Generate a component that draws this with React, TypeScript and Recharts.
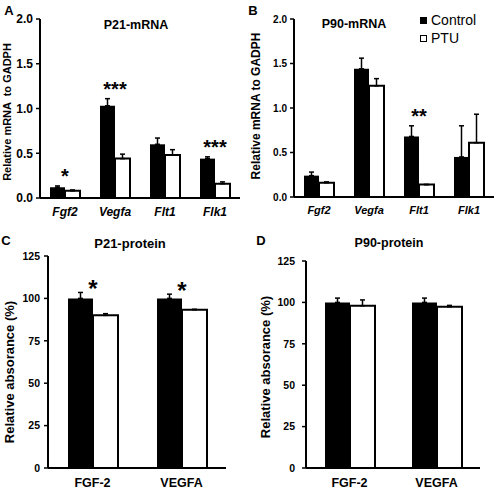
import { BarChart, Bar, XAxis, YAxis, ErrorBar, LabelList, Legend } from 'recharts';

const FONT = '"Liberation Sans", Arial, Helvetica, sans-serif';

const geneNames = ['Fgf2', 'Vegfa', 'Flt1', 'Flk1'];
const proteinNames = ['FGF-2', 'VEGFA'];

const mrnaTicks = [0, 0.5, 1, 1.5, 2];
const proteinTicks = [0, 25, 50, 75, 100, 125];

// A  P21-mRNA
const p21mControl = [0.12, 1.03, 0.6, 0.44];
const p21mControlErr = [0.015, 0.08, 0.07, 0.02];
const p21mPtu = [0.08, 0.44, 0.48, 0.16];
const p21mPtuErr = [0.01, 0.05, 0.06, 0.02];
const p21mSig = ['*', '***', '', '***'];

// B  P90-mRNA
const p90mControl = [0.24, 1.44, 0.68, 0.45];
const p90mControlErr = [0.04, 0.12, 0.12, 0.35];
const p90mPtu = [0.16, 1.25, 0.14, 0.61];
const p90mPtuErr = [0.01, 0.08, 0, 0.32];
const p90mSig = ['', '', '**', ''];

// C  P21-protein
const p21pControl = [100, 100];
const p21pControlErr = [3.5, 2.5];
const p21pPtu = [90, 93.3];
const p21pPtuErr = [1, 0.3];
const p21pSig = ['*', '*'];

// D  P90-protein
const p90pControl = [100, 100];
const p90pControlErr = [2.6, 2.6];
const p90pPtu = [98, 97.4];
const p90pPtuErr = [3.5, 0.8];
const p90pSig = ['', ''];

const buildRows = (
  names: string[],
  control: number[],
  controlErr: number[],
  ptu: number[],
  ptuErr: number[],
  sig: string[]
) =>
  names.map((name, i) => ({
    name,
    control: control[i],
    ptu: ptu[i],
    // only the upper half of each error bar is drawn
    controlErr: [0, controlErr[i]],
    ptuErr: [0, ptuErr[i]],
    sig: sig[i],
  }));

const fmt1 = (v: number) => v.toFixed(1);
const fmt0 = (v: number) => String(v);

function SigMark(props: any) {
  const { rows, index, size, dy } = props;
  const vb = props.viewBox || {};
  const x = vb.x ?? props.x;
  const y = vb.y ?? props.y;
  const width = vb.width ?? props.width;
  const height = vb.height ?? props.height;
  const row = rows[index];
  if (!row || !row.sig) return null;
  const k = row.control ? height / row.control : 0;
  const errTop = y - row.controlErr[1] * k;
  return (
    <text
      x={x + width}
      y={errTop + dy}
      textAnchor="middle"
      fontSize={size}
      fontWeight={700}
      fontFamily={FONT}
      fill="#000"
    >
      {row.sig}
    </text>
  );
}

function KeyList(props: any) {
  const items = props.payload || [];
  return (
    <div style={{ fontFamily: FONT, fontSize: 14, lineHeight: '18px', color: '#000' }}>
      {items.map((it: any) => (
        <div key={it.value} style={{ display: 'flex', alignItems: 'center', whiteSpace: 'nowrap' }}>
          <span
            style={{
              display: 'inline-block',
              width: 7,
              height: 7,
              boxSizing: 'border-box',
              background: it.payload?.fill ?? it.color,
              border: '1.5px solid #000',
              marginRight: 4,
            }}
          />
          {it.value}
        </div>
      ))}
    </div>
  );
}

function Panel(p: any) {
  const tickFont = { fontFamily: FONT, fontWeight: 700, fill: '#000' };
  return (
    <div style={{ position: 'absolute', left: p.left, top: p.top }}>
      <BarChart width={p.width} height={p.height} data={p.rows} margin={p.margin} barGap={0}>
        <XAxis
          dataKey="name"
          interval={0}
          height={p.xHeight}
          tickLine={false}
          tickSize={0}
          tickMargin={p.xTickGap}
          axisLine={{ stroke: '#000', strokeWidth: 2 }}
          tick={{ ...tickFont, fontSize: p.xFont, fontStyle: p.italic ? 'italic' : 'normal' }}
        />
        <YAxis
          width={p.yWidth}
          domain={p.domain}
          ticks={p.ticks}
          tickFormatter={p.fmt}
          interval={0}
          axisLine={{ stroke: '#000', strokeWidth: 2 }}
          tickLine={{ stroke: '#000', strokeWidth: 1.5 }}
          tickSize={4}
          tickMargin={p.yTickGap}
          tick={{ ...tickFont, fontSize: p.yFont }}
        />
        <Bar dataKey="control" name="Control" fill="#000" barSize={p.barSize} isAnimationActive={false}>
          <ErrorBar dataKey="controlErr" direction="y" width={2.5} stroke="#000" strokeWidth={1.5} isAnimationActive={false} />
          <LabelList dataKey="sig" content={(lp: any) => <SigMark {...lp} rows={p.rows} size={p.sigSize} dy={p.sigDy} />} />
        </Bar>
        <Bar dataKey="ptu" name="PTU" fill="#fff" stroke="#000" strokeWidth={2} barSize={p.barSize} isAnimationActive={false}>
          <ErrorBar dataKey="ptuErr" direction="y" width={2.5} stroke="#000" strokeWidth={1.5} isAnimationActive={false} />
        </Bar>
        {p.legend && (
          <Legend
            layout="vertical"
            align="center"
            verticalAlign="middle"
            content={<KeyList />}
            wrapperStyle={{ left: 172, top: 11, width: 'auto', height: 'auto' }}
          />
        )}
      </BarChart>
    </div>
  );
}

function Caption({ text, x, y, size, rotate }: any) {
  return (
    <div
      style={{
        position: 'absolute',
        left: x,
        top: y,
        transform: `translate(-50%, -50%)${rotate ? ' rotate(-90deg)' : ''}`,
        whiteSpace: 'pre',
        lineHeight: 1,
        fontFamily: FONT,
        fontWeight: 700,
        fontSize: size,
        color: '#000',
      }}
    >
      {text}
    </div>
  );
}

export default function App() {
  const rowsA = buildRows(geneNames, p21mControl, p21mControlErr, p21mPtu, p21mPtuErr, p21mSig);
  const rowsB = buildRows(geneNames, p90mControl, p90mControlErr, p90mPtu, p90mPtuErr, p90mSig);
  const rowsC = buildRows(proteinNames, p21pControl, p21pControlErr, p21pPtu, p21pPtuErr, p21pSig);
  const rowsD = buildRows(proteinNames, p90pControl, p90pControlErr, p90pPtu, p90pPtuErr, p90pSig);

  return (
    <div style={{ position: 'relative', width: 496, height: 491, background: '#fff', overflow: 'hidden' }}>
      <style>{'body{margin:0}'}</style>

      <Panel
        rows={rowsA}
        left={0}
        top={0}
        width={248}
        height={245}
        margin={{ top: 19, right: 8, bottom: 17, left: 0 }}
        yWidth={40}
        xHeight={30}
        domain={[0, 2]}
        ticks={mrnaTicks}
        fmt={fmt1}
        yFont={12}
        yTickGap={3}
        xFont={12}
        xTickGap={9}
        italic
        barSize={15}
        sigSize={20}
        sigDy={-2.5}
      />
      <Panel
        rows={rowsB}
        left={248}
        top={0}
        width={248}
        height={245}
        margin={{ top: 19, right: 2, bottom: 18, left: 0 }}
        yWidth={46}
        xHeight={30}
        domain={[0, 2]}
        ticks={mrnaTicks}
        fmt={fmt1}
        yFont={10}
        yTickGap={3}
        xFont={11}
        xTickGap={9}
        italic
        barSize={15}
        sigSize={20}
        sigDy={-2.5}
        legend
      />
      <Panel
        rows={rowsC}
        left={0}
        top={245}
        width={248}
        height={246}
        margin={{ top: 11, right: 22, bottom: 3, left: 0 }}
        yWidth={48}
        xHeight={20}
        domain={[0, 125]}
        ticks={proteinTicks}
        fmt={fmt0}
        yFont={10.5}
        yTickGap={4}
        xFont={12.5}
        xTickGap={10}
        barSize={25}
        sigSize={24}
        sigDy={5}
      />
      <Panel
        rows={rowsD}
        left={248}
        top={245}
        width={248}
        height={246}
        margin={{ top: 16, right: 16, bottom: 3, left: 0 }}
        yWidth={58}
        xHeight={20}
        domain={[0, 125]}
        ticks={proteinTicks}
        fmt={fmt0}
        yFont={10.5}
        yTickGap={7}
        xFont={12.5}
        xTickGap={10}
        barSize={25}
        sigSize={24}
        sigDy={5}
      />

      <Caption text="A" x={9} y={10} size={13} />
      <Caption text="B" x={253} y={10} size={13} />
      <Caption text="C" x={6} y={240} size={13} />
      <Caption text="D" x={261} y={240} size={13} />

      <Caption text="P21-mRNA" x={136} y={25} size={12.5} />
      <Caption text="P90-mRNA" x={354} y={24} size={12.5} />
      <Caption text="P21-protein" x={130} y={243} size={13} />
      <Caption text="P90-protein" x={389} y={243} size={12.5} />

      <Caption text="Relative mRNA  to GADPH" x={7} y={112} size={11} rotate />
      <Caption text="Relative mRNA to GADPH" x={256} y={106} size={12} rotate />
      <Caption text="Relative absorance (%)" x={9} y={372} size={13} rotate />
      <Caption text="Relative absorance (%)" x={265} y={367} size={13} rotate />
    </div>
  );
}
